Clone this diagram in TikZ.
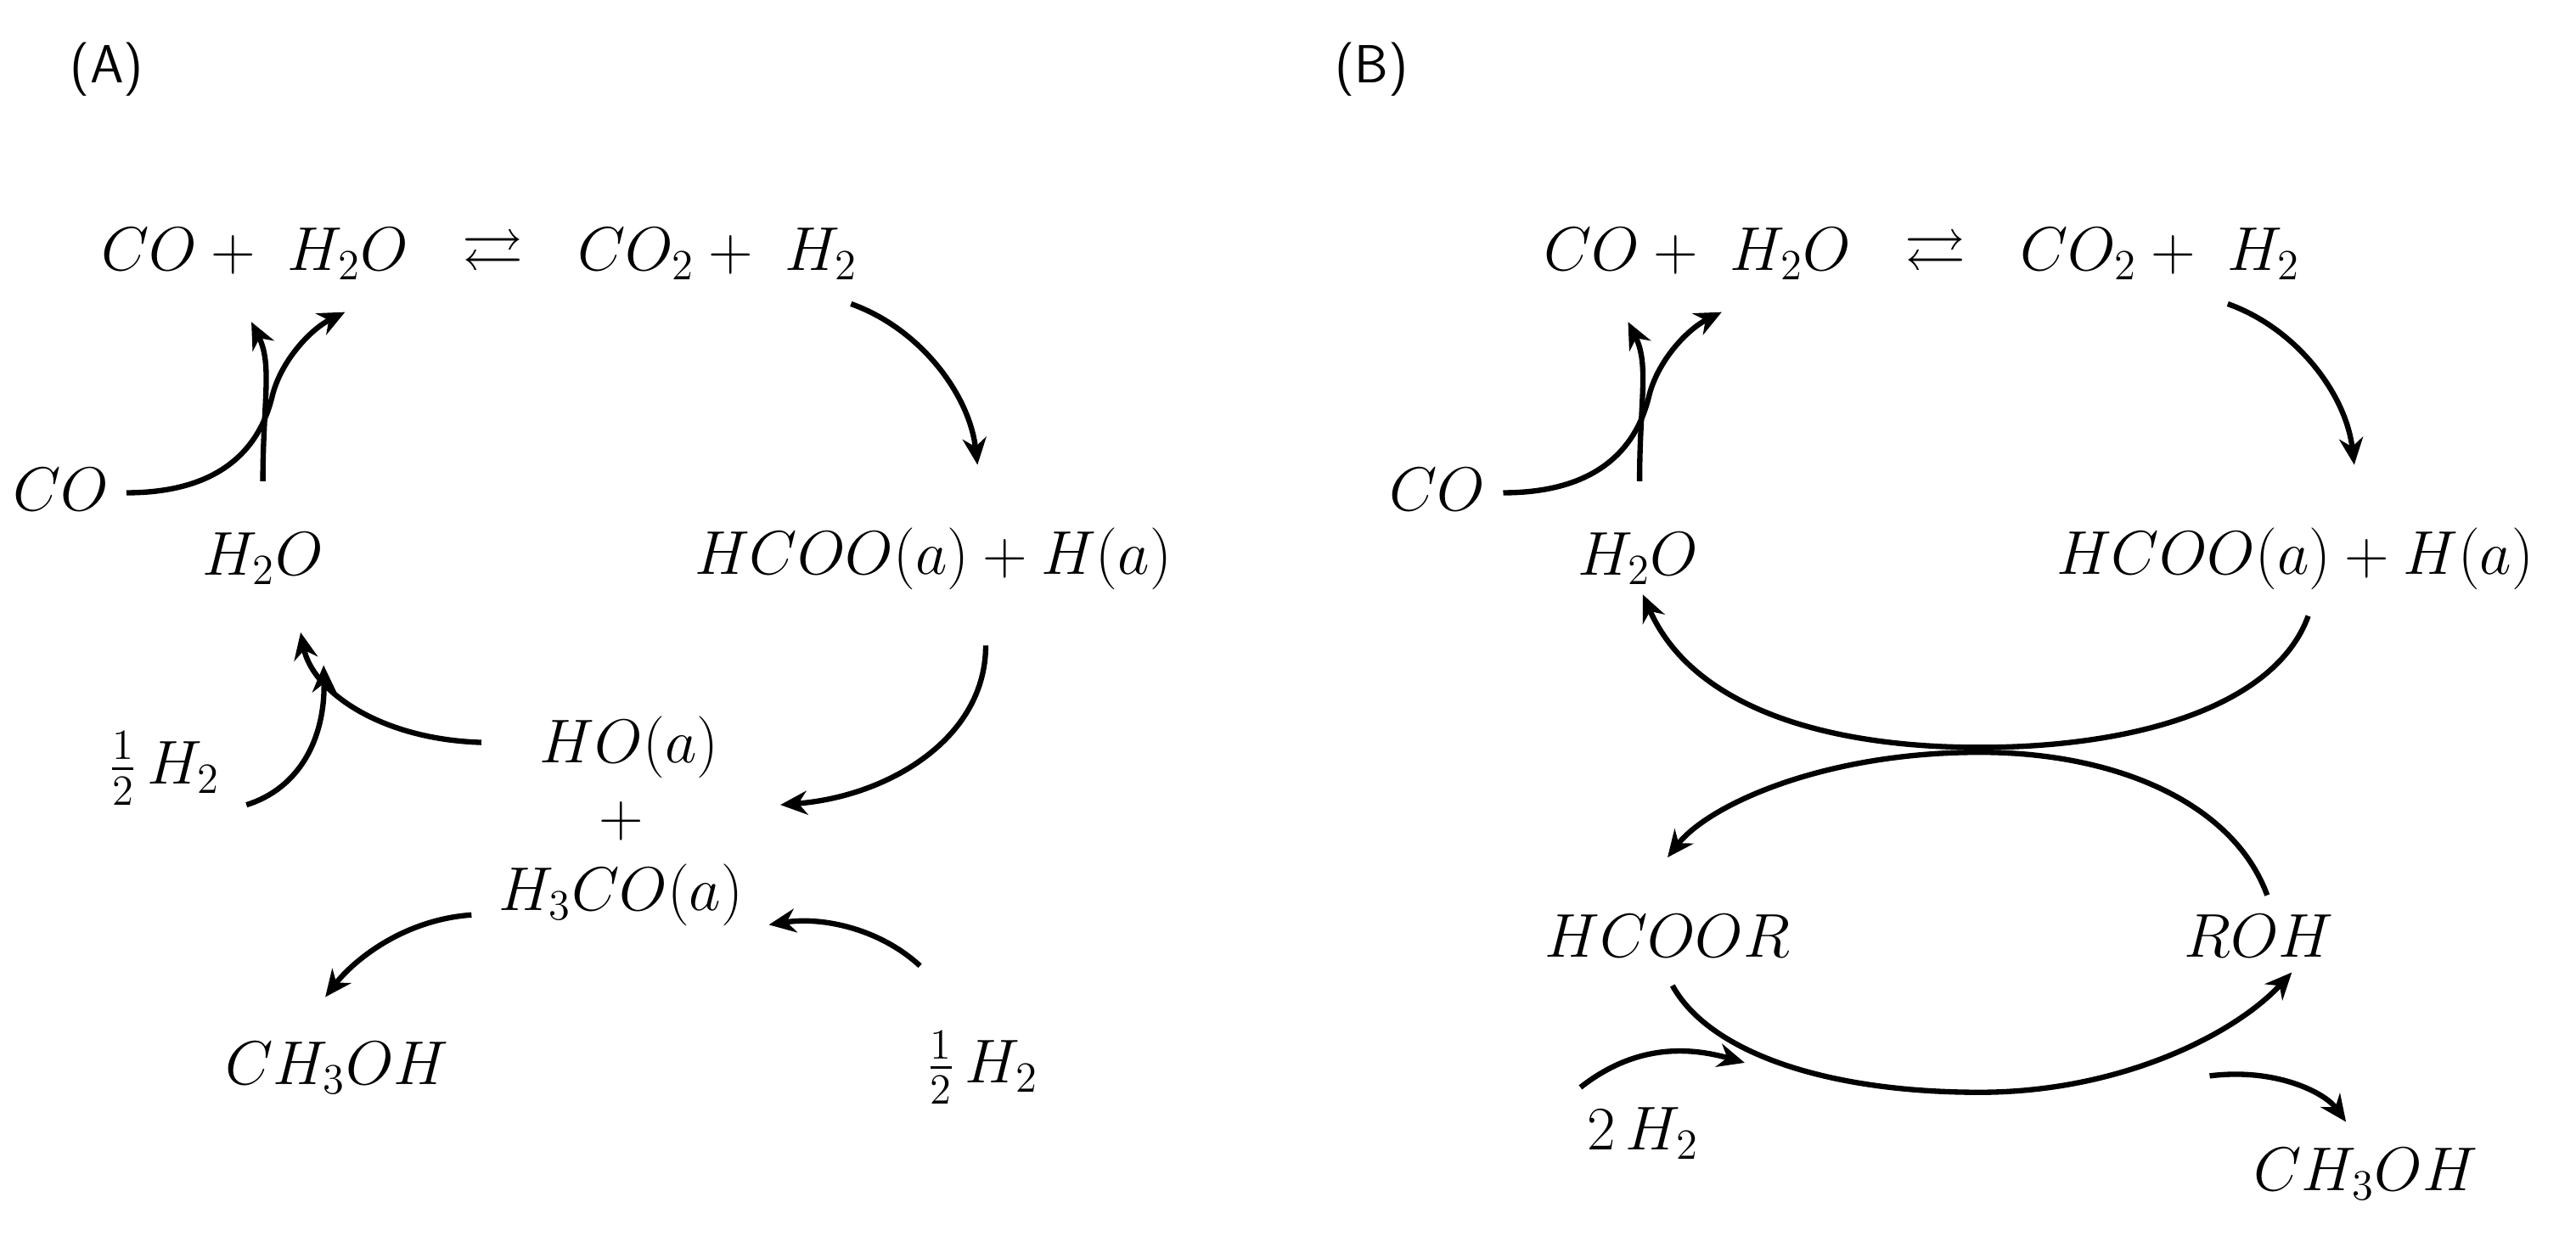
\documentclass[tikz,border=0pt]{standalone}
\usepackage{amsmath,amssymb}
\usetikzlibrary{arrows.meta}
\begin{document}
\begin{tikzpicture}[x=0.01935cm,y=-0.01935cm,
  lbl/.style={font=\fontsize{20.5}{24}\selectfont,inner sep=0pt},
  pl/.style={font=\fontsize{18}{22}\selectfont\sffamily,inner sep=0pt},
  arr/.style={line width=1.8pt,-{Stealth[length=9pt,width=8pt]}},
  pln/.style={line width=1.8pt}]
\useasboundingbox (0,0) rectangle (1568,752);
\node[pl] (pa) at (65,42) {(A)};
\node[pl] (pb) at (835,42) {(B)};
% Panel A
\node[lbl] (eqa) at (292,155) {$CO+\ H_2O\ \ \rightleftarrows\ \ CO_2+\ H_2$};
\node[lbl] (coa) at (37,298) {$CO$};
\node[lbl] (wa) at (160,340) {$H_2O$};
\node[lbl] (hcooa) at (568,340) {$HCOO(a)+H(a)$};
\node[lbl] (hoa) at (383,455) {$HO(a)$};
\node[lbl] (plusa) at (378,500) {$+$};
\node[lbl] (h3coa) at (378,545) {$H_3CO(a)$};
\node[lbl] (hha) at (100,468) {$\tfrac12\,H_2$};
\node[lbl] (meoha) at (205,650) {$CH_3OH$};
\node[lbl] (hhb) at (598,650) {$\tfrac12\,H_2$};
\draw[arr] (77,300) .. controls (132,300) and (158,275) .. (166,240) .. controls (172,218) and (190,200) .. (210,190);
\draw[arr] (160,293) .. controls (160,245) and (166,222) .. (153,196);
\draw[arr] (518,185) .. controls (560,200) and (590,240) .. (595,283);
\draw[arr] (600,393) .. controls (600,450) and (540,485) .. (475,490);
\draw[arr] (293,452) .. controls (230,450) and (190,420) .. (183,385);
\draw[arr] (150,490) .. controls (182,480) and (198,450) .. (197,405);
\draw[arr] (287,557) .. controls (245,560) and (215,585) .. (198,607);
\draw[arr] (560,588) .. controls (535,565) and (500,558) .. (468,563);
% Panel B
\node[lbl] (eqb) at (1170,155) {$CO+\ H_2O\ \ \rightleftarrows\ \ CO_2+\ H_2$};
\node[lbl] (cob) at (875,298) {$CO$};
\node[lbl] (wb) at (997,340) {$H_2O$};
\node[lbl] (hcoob) at (1397,340) {$HCOO(a)+H(a)$};
\node[lbl] (hcoor) at (1015,570) {$HCOOR$};
\node[lbl] (roh) at (1375,570) {$ROH$};
\node[lbl] (twoh) at (1000,690) {$2\,H_2$};
\node[lbl] (meohb) at (1440,715) {$CH_3OH$};
\draw[arr] (915,300) .. controls (970,300) and (996,275) .. (1004,240) .. controls (1010,218) and (1028,200) .. (1048,190);
\draw[arr] (998,293) .. controls (998,245) and (1004,222) .. (991,196);
\draw[arr] (1356,185) .. controls (1398,200) and (1428,240) .. (1433,283);
\draw[arr] (1405,375) .. controls (1385,430) and (1300,455) .. (1205,455) .. controls (1110,455) and (1030,430) .. (1000,362);
\draw[arr] (1380,545) .. controls (1360,490) and (1290,458) .. (1205,458) .. controls (1110,458) and (1040,490) .. (1015,522);
\draw[arr] (1018,600) .. controls (1040,640) and (1110,665) .. (1205,665) .. controls (1290,665) and (1360,630) .. (1395,592);
\draw[arr] (962,662) .. controls (990,640) and (1020,635) .. (1062,647);
\draw[arr] (1345,655) .. controls (1385,650) and (1415,665) .. (1428,683);
\end{tikzpicture}
\end{document}
